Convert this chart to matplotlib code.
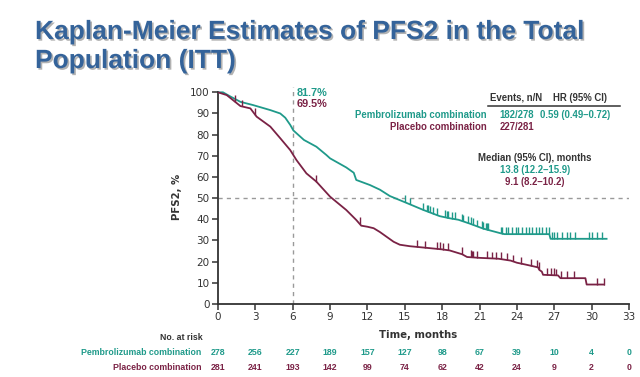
import numpy as np
import matplotlib.pyplot as plt
import matplotlib.patheffects as pe
from matplotlib.transforms import blended_transform_factory

teal = '#1f9a8a'
maroon = '#7a2245'
sans = ['Liberation Sans', 'DejaVu Sans']

# PFS2 curves (months, %)
pem_t = [0, 0.4, 1, 1.8, 2.8, 4.2, 5.0, 5.4, 5.8, 6.05, 6.9, 7.9, 8.7, 9.0, 10.3,
         10.9, 11.1, 12.2, 13, 13.8, 15.2, 16.5, 17.8, 18.6, 19.3, 20.2, 21.3,
         22.7, 23.0, 26.6, 26.7, 31.2]
pem_v = [100, 100, 98, 95.5, 94, 91.6, 90, 88, 84.6, 82, 77.5, 74.3, 70.4, 68.8,
         64.5, 62, 58.6, 56.2, 54, 51, 47.6, 44.4, 41.5, 40.5, 39.8, 38, 35.6,
         33.4, 33, 33, 30.8, 30.8]
pem_cens = [15.0, 15.4, 16.5, 16.8, 16.9, 17.0, 17.3, 17.6, 18.2, 18.4, 18.5,
            18.8, 19.05, 19.6, 19.7, 20.1, 20.3, 20.5, 20.8, 21.2, 21.3, 21.5,
            21.6, 21.7, 22.7, 22.8, 23.1, 23.3, 23.6, 23.9, 24.1, 24.4, 24.7,
            24.95, 25.2, 25.5, 25.8, 26.0, 26.3, 26.6, 26.8, 27.0, 27.2, 27.6,
            28.0, 28.3, 28.7, 29.8, 30.0, 30.4, 30.8]

pbo_t = [0, 0.7, 1.8, 2.6, 3.1, 4.2, 5.0, 5.8, 6.3, 7.1, 7.9, 9.0, 10.3, 11.1,
         11.5, 12.0, 12.5, 13, 14.1, 14.6, 15.4, 16.8, 18.0, 18.6, 19.6, 20.0,
         21, 22.5, 23.5, 24, 24.8, 25.7, 25.8, 26.0, 26.1, 27.3, 27.5, 29.5,
         29.6, 31.0]
pbo_v = [100, 98.7, 93.5, 92.4, 88.5, 83.8, 78.3, 72.7, 68, 61.7, 57.8, 50.7,
         44.4, 39.7, 37, 36.5, 35.8, 34, 29.4, 28, 27.3, 26.5, 25.8, 25.3, 23.5,
         22.2, 21.8, 21.4, 20.5, 19.5, 18.5, 17.3, 16.1, 15.3, 13.8, 13.5, 12.2,
         12.2, 9.2, 9.2]
pbo_cens = [1.4, 1.9, 3.0, 7.9, 11.4, 16.0, 16.6, 17.6, 17.85, 18.1, 18.5, 19.6,
            20.3, 20.4, 20.5, 20.8, 21.6, 22.0, 22.3, 22.7, 23.2, 23.7, 24.3,
            25.1, 25.6, 25.75, 26.4, 26.7, 26.95, 27.1, 27.5, 28.0, 28.6, 30.4,
            31.0]

xticks = [0, 3, 6, 9, 12, 15, 18, 21, 24, 27, 30, 33]
yticks = [0, 10, 20, 30, 40, 50, 60, 70, 80, 90, 100]
risk_pem = [278, 256, 227, 189, 157, 127, 98, 67, 39, 10, 4, 0]
risk_pbo = [281, 241, 193, 142, 99, 74, 62, 42, 24, 9, 2, 0]


def fx(px):
    return px / 640


def fy(py):
    return 1 - py / 377


fig = plt.figure(figsize=(6.4, 3.77), dpi=100)
fig.patch.set_facecolor('white')

# title with a soft shadow
shadow = [pe.SimplePatchShadow(offset=(1.2, -1.2), shadow_rgbFace='#7f7f7f', alpha=0.6), pe.Normal()]
for txt, by in [('Kaplan-Meier Estimates of PFS2 in the Total', 39), ('Population (ITT)', 68)]:
    fig.text(fx(35), fy(by), txt, fontsize=19, fontweight='bold', color='#34639a',
             family=sans, va='baseline', ha='left', path_effects=shadow)

ax = fig.add_axes([fx(218), fy(304), fx(629) - fx(218), fy(90.2) - fy(304)])
ax.set_xlim(0, 33)
ax.set_ylim(0, 101)

for t, v, cens, col in [(pem_t, pem_v, pem_cens, teal), (pbo_t, pbo_v, pbo_cens, maroon)]:
    ax.plot(t, v, color=col, lw=1.3, zorder=3)
    cv = np.interp(cens, t, v)
    ax.vlines(cens, cv, cv + 3.2, color=col, lw=1.0, zorder=3)

ax.axhline(50, color='#9a9a9a', ls=(0, (3, 3)), lw=1.0, zorder=1)
ax.plot([6, 6], [0, 102.5], color='#9a9a9a', ls=(0, (3, 3)), lw=1.0, clip_on=False, zorder=1)

ax.text(6.35, 99.8, '81.7%', color=teal, fontsize=7.8, fontweight='bold', family=sans, va='center')
ax.text(6.35, 94.6, '69.5%', color=maroon, fontsize=7.8, fontweight='bold', family=sans, va='center')

for s in ['top', 'right']:
    ax.spines[s].set_visible(False)
ax.spines['left'].set_bounds(0, 100)
for s in ['left', 'bottom']:
    ax.spines[s].set_color('#333333')
    ax.spines[s].set_linewidth(1.3)
ax.set_xticks(xticks)
ax.set_yticks(yticks)
ax.tick_params(direction='out', length=4, width=1.1, color='#333333',
               labelsize=7.5, labelcolor='#333333', pad=2)
ax.set_ylabel('PFS2, %', fontsize=7.3, fontweight='bold', color='#333333', labelpad=6)

# events / HR table
fs = 6.9
dark = '#333333'
def lab(px, py, s, col, ha='center'):
    fig.text(fx(px), fy(py), s, fontsize=fs, ha=ha, va='center', family=sans,
             fontweight='bold', color=col)

lab(516, 98, 'Events, n/N', dark)
lab(580, 98, 'HR (95% CI)', dark)
fig.add_artist(plt.Line2D([fx(488), fx(620)], [fy(105.5), fy(105.5)], color=dark, lw=1.1))
lab(487, 115, 'Pembrolizumab combination', teal, 'right')
lab(487, 126.5, 'Placebo combination', maroon, 'right')
lab(517, 115, '182/278', teal)
lab(517, 126.5, '227/281', maroon)
lab(575, 115, '0.59 (0.49–0.72)', teal)
lab(535, 158, 'Median (95% CI), months', dark)
lab(535, 170, '13.8 (12.2–15.9)', teal)
lab(535, 182, '9.1 (8.2–10.2)', maroon)

# number at risk
fs = 6.3
tr = blended_transform_factory(ax.transData, fig.transFigure)
fig.text(fx(418), fy(335.5), 'Time, months', fontsize=7.3, ha='center', va='center', fontweight='bold', color=dark)
lab(202.5, 337, 'No. at risk', dark, 'right')
lab(201.5, 352.6, 'Pembrolizumab combination', teal, 'right')
lab(201.5, 367.7, 'Placebo combination', maroon, 'right')
for x, a, b in zip(xticks, risk_pem, risk_pbo):
    ax.text(x, fy(352.6), str(a), transform=tr, fontsize=fs, ha='center', va='center', family=sans, fontweight='bold', color=teal, clip_on=False)
    ax.text(x, fy(367.7), str(b), transform=tr, fontsize=fs, ha='center', va='center', family=sans, fontweight='bold', color=maroon, clip_on=False)

fig.savefig('out.png', dpi=100)
